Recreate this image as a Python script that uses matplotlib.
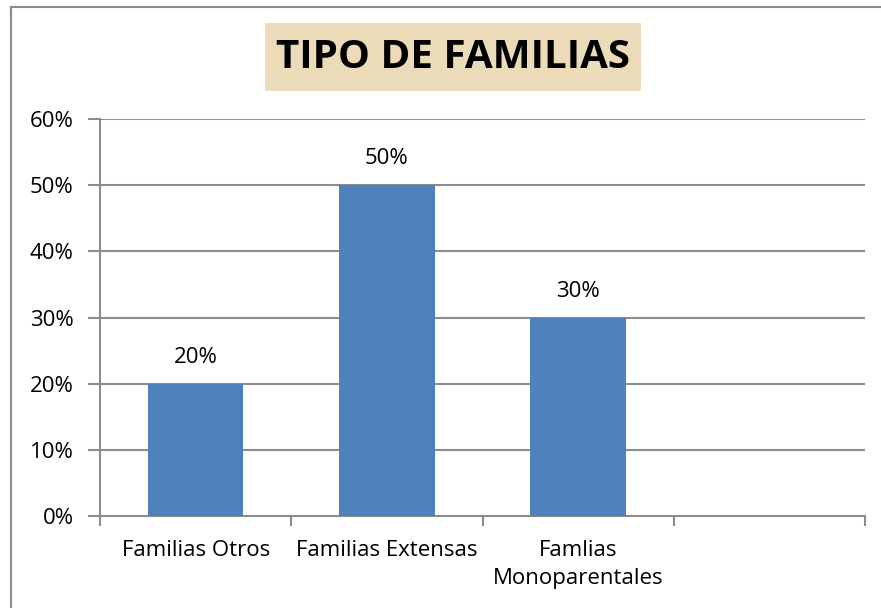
import matplotlib.pyplot as plt
from matplotlib.patches import Rectangle
from matplotlib.lines import Line2D

categories = ["Familias Otros", "Familias Extensas", "Famlias\nMonoparentales", ""]
values = [0.20, 0.50, 0.30, None]
y_ticks = [0.0, 0.1, 0.2, 0.3, 0.4, 0.5, 0.6]
y_tick_labels = ["0%", "10%", "20%", "30%", "40%", "50%", "60%"]
title = "TIPO DE FAMILIAS"

W, H = 881, 608
fig = plt.figure(figsize=(W / 100, H / 100), dpi=100)
plt.rcParams['font.family'] = ['Open Sans', 'DejaVu Sans']

# outer chart frame (only top and left edges visible)
fig.add_artist(Line2D([11 / W, 11 / W], [0, 1 - 7 / H], color='#8a8a8a', lw=1.5))
fig.add_artist(Line2D([11 / W, 1], [1 - 7 / H, 1 - 7 / H], color='#8a8a8a', lw=1.5))

left, right, top, bottom = 100, 865, 119, 516
ax = fig.add_axes([left / W, 1 - bottom / H, (right - left) / W, (bottom - top) / H])

grid_c = '#8c8c8c'
fs = 16
xs = list(range(len(categories)))
bar_x = [x for x, v in zip(xs, values) if v is not None]
bar_v = [v for v in values if v is not None]
ax.bar(bar_x, bar_v, width=0.5, color='#4F81BD', zorder=3)
for x, v in zip(bar_x, bar_v):
    ax.annotate(f"{v * 100:.0f}%", (x, v), xytext=(0, 19), textcoords='offset points',
                ha='center', va='center', fontsize=fs)

ax.set_xlim(-0.5, len(categories) - 0.5)
ax.set_ylim(0, 0.6)
ax.set_yticks(y_ticks)
ax.set_yticklabels(y_tick_labels, fontsize=fs)
for y in y_ticks[1:]:
    ax.axhline(y, color=grid_c, lw=1.5, zorder=1)

ax.set_xticks([x - 0.5 for x in xs] + [len(categories) - 0.5])
ax.set_xticklabels([])
for x, c in zip(xs, categories):
    ax.text(x, -0.036, c, ha='center', va='top', fontsize=fs, linespacing=1.45,
            transform=ax.transData)

for s in ['top', 'right']:
    ax.spines[s].set_visible(False)
for s in ['left', 'bottom']:
    ax.spines[s].set_color(grid_c)
    ax.spines[s].set_linewidth(1.5)
ax.tick_params(axis='y', length=9, width=1.5, color=grid_c, pad=10)
ax.tick_params(axis='x', length=7, width=1.5, color=grid_c)

# title with beige box
fig.add_artist(Rectangle((265 / W, 1 - 91 / H), (641 - 265) / W, (91 - 23) / H,
                         transform=fig.transFigure, facecolor='#EBDBB8', edgecolor='none'))
fig.text(453 / W, 1 - 57 / H, title, ha='center', va='center', fontsize=29,
         fontweight='bold', color='black')

fig.savefig("out.png", dpi=100)
